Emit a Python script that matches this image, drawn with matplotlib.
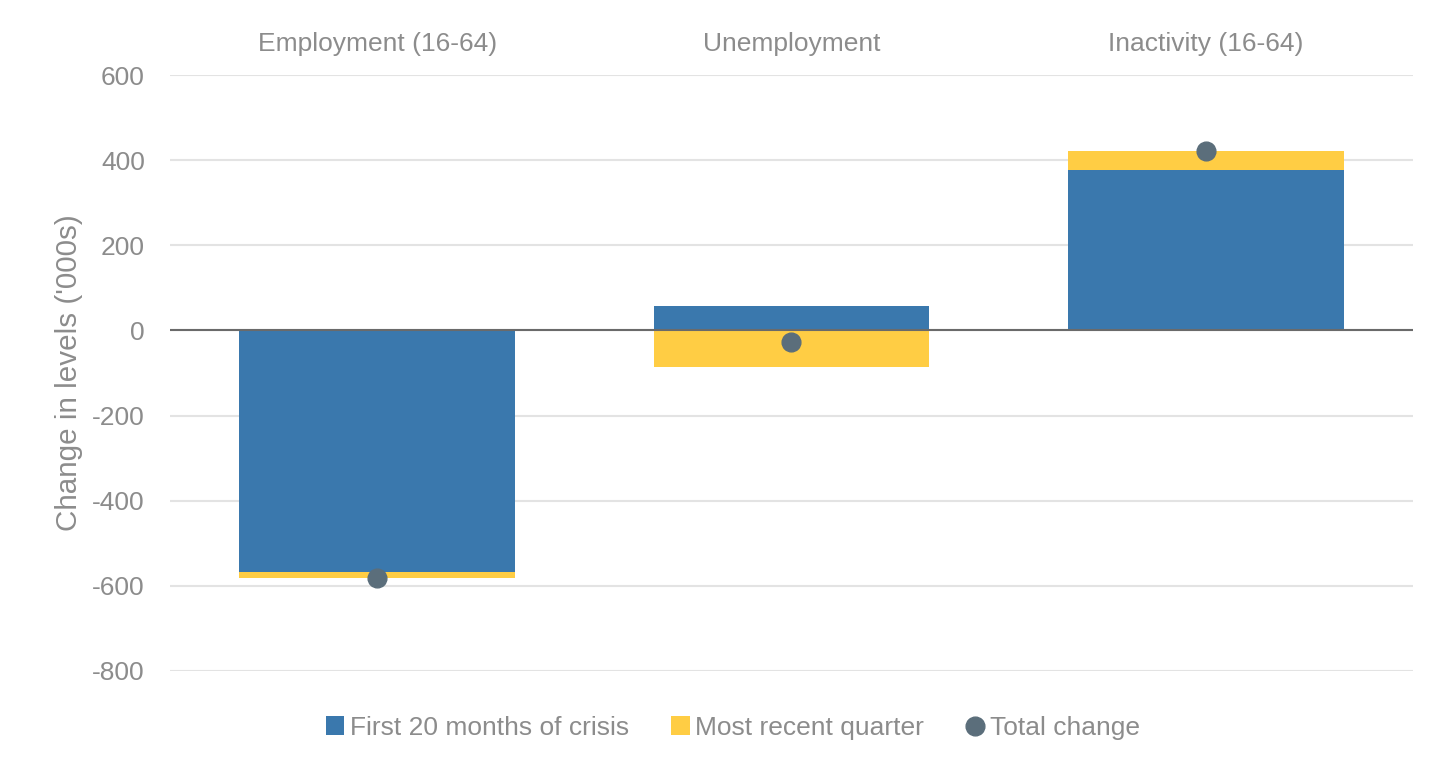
import numpy as np
import matplotlib.pyplot as plt

plt.rcParams['font.family'] = ['Liberation Sans', 'DejaVu Sans']
plt.rcParams['axes.unicode_minus'] = False

categories = ['Employment (16-64)', 'Unemployment', 'Inactivity (16-64)']
first_20_months = [-567, 58, 376]
recent_quarter = [-14, -86, 45]
total_change = [-581, -28, 421]

blue = '#3A78AD'
yellow = '#FFCD44'
dot = '#5B6E7B'
grey_text = '#8C8C8C'

fig = plt.figure(figsize=(14.37, 7.63), dpi=100)
ax = fig.add_axes([0.1183, 0.1206, 0.8650, 0.7811])

x = np.arange(len(categories))
first = np.array(first_20_months)
recent = np.array(recent_quarter)

# stack the recent quarter on the end of the first bar, or below zero if signs differ
bottom = np.where(np.sign(recent) == np.sign(first), first, 0)

b1 = ax.bar(x, first, width=0.665, color=blue, label='First 20 months of crisis', zorder=2)
b2 = ax.bar(x, recent, bottom=bottom, width=0.665, color=yellow, label='Most recent quarter', zorder=2)
d, = ax.plot(x, total_change, 'o', color=dot, markersize=13.5, label='Total change', zorder=3)

ax.set_xlim(-0.5, 2.5)
ax.set_ylim(-800, 600)
ax.set_yticks(np.arange(-800, 601, 200))
ax.yaxis.grid(True, color='#E3E3E3', linewidth=1.5, zorder=0)
ax.axhline(0, color='#6A6A6A', linewidth=1.5, zorder=2.5)
for s in ax.spines.values():
    s.set_visible(False)

ax.xaxis.tick_top()
ax.set_xticks(x)
ax.set_xticklabels(categories)
ax.tick_params(axis='x', length=0, pad=13.5, labelsize=19, labelcolor=grey_text)
ax.tick_params(axis='y', length=0, pad=18, labelsize=19, labelcolor=grey_text)
ax.set_ylabel("Change in levels ('000s)", fontsize=21.3, color=grey_text)
ax.yaxis.set_label_coords(-0.070, 0.5)

fig.legend([b1, b2, d], [b1.get_label(), b2.get_label(), d.get_label()],
           loc='center', bbox_to_anchor=(0.51, 0.046), ncol=3, frameon=False,
           fontsize=19, labelcolor=grey_text, handlelength=0.7, handletextpad=0.2,
           columnspacing=1.6)

fig.savefig('out.png', dpi=100)
